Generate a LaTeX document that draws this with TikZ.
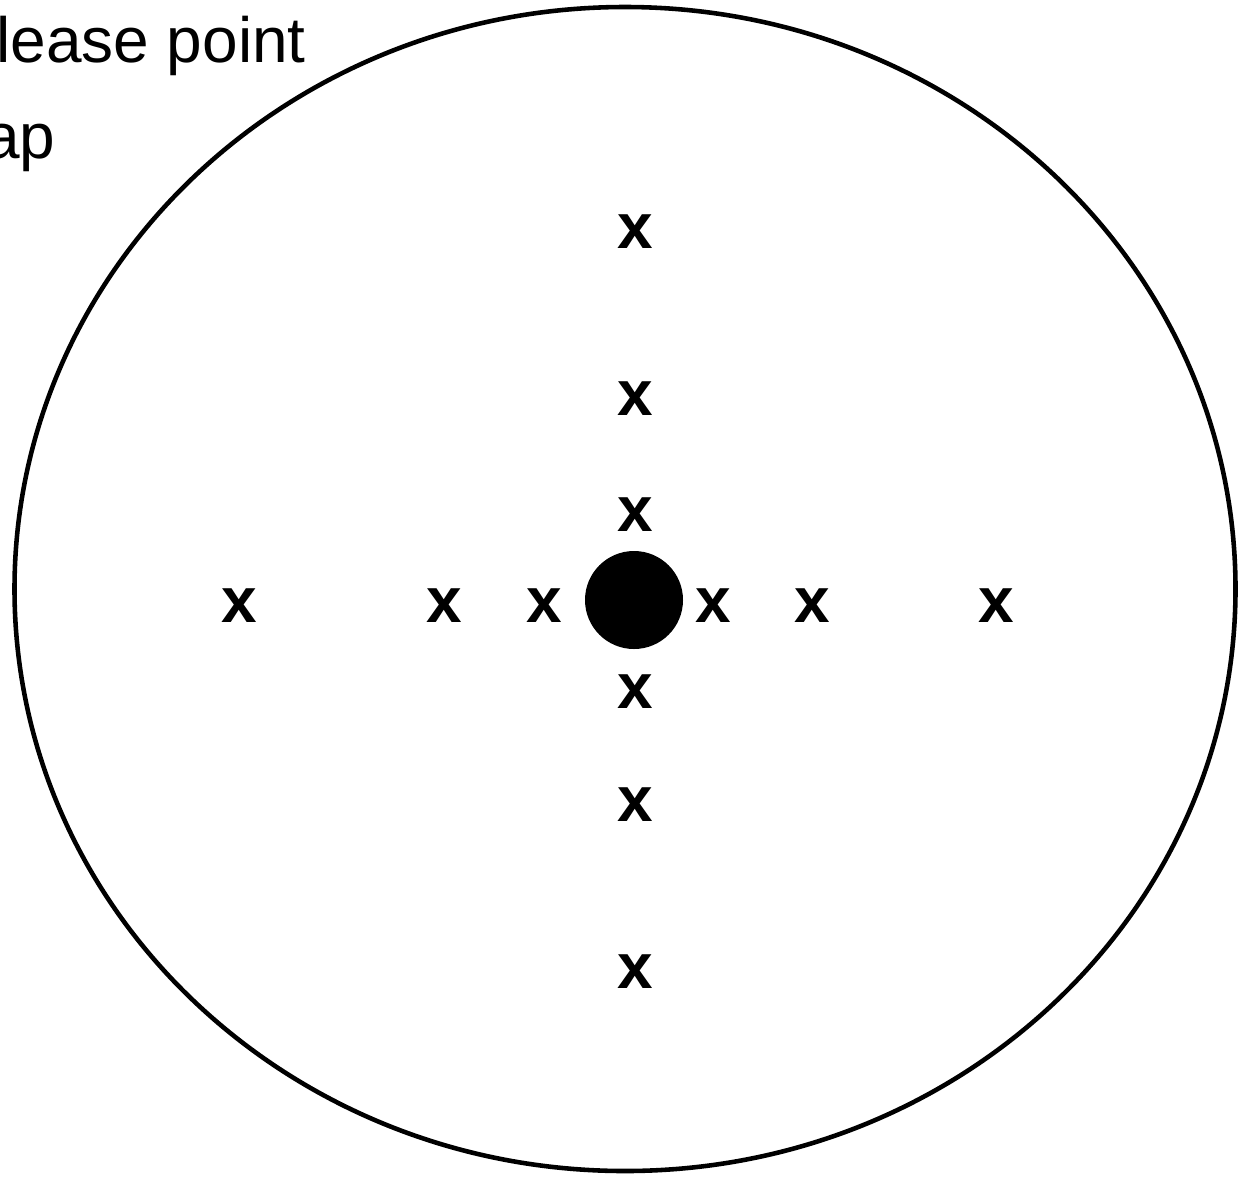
\documentclass[tikz,border=0pt]{standalone}
\usepackage{fontspec}
\setmainfont{Liberation Sans}
\usetikzlibrary{positioning}

\begin{document}
\begin{tikzpicture}[x=0.02cm, y=-0.02cm,
    marker/.style={inner sep=0pt, font=\fontsize{36.4}{40}\selectfont\bfseries},
    note/.style={inner sep=0pt, anchor=base west, font=\fontsize{36.4}{40}\selectfont}]
  \useasboundingbox (0,0) rectangle (1239,1177);
  \clip (0,0) rectangle (1239,1177);

  %--- cut-off text ---
  \node[note] (line1) at (-4,62) {lease point};
  \node[note] (line2) at (-16,158) {ap};

  %--- outline and centre ---
  \draw[line width=2.6pt] (625,589) ellipse [x radius=610.5, y radius=582];
  \fill (634,600) circle [radius=49];

  %--- vertical row of marks ---
  \node[marker] (n1) at (635,232) {x};
  \node[marker] (n2) at (635,399) {x};
  \node[marker] (n3) at (635,515) {x};
  \node[marker] (s1) at (635,692) {x};
  \node[marker] (s2) at (635,805) {x};
  \node[marker] (s3) at (635,972) {x};

  %--- horizontal row of marks ---
  \node[marker] (w3) at (239,606) {x};
  \node[marker] (w2) at (444,606) {x};
  \node[marker] (w1) at (544,606) {x};
  \node[marker] (e1) at (713,606) {x};
  \node[marker] (e2) at (812,606) {x};
  \node[marker] (e3) at (996,606) {x};
\end{tikzpicture}
\end{document}
